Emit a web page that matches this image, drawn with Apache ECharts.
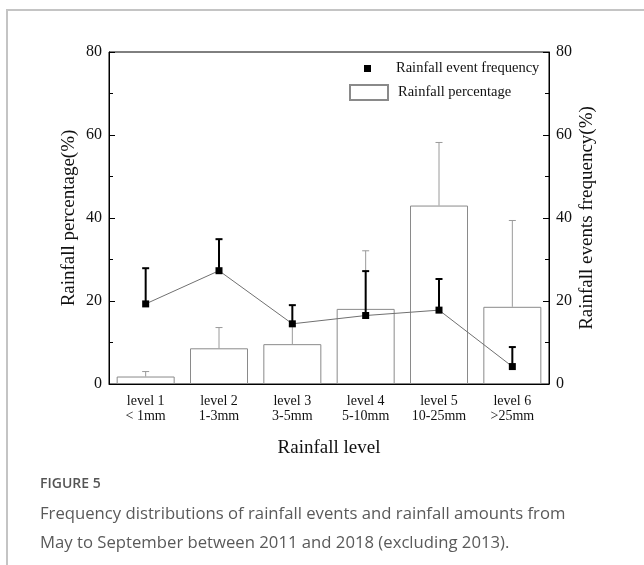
<!DOCTYPE html>
<html>
<head>
<meta charset="utf-8">
<style>
  html, body { margin: 0; padding: 0; background: #fff; }
  #frame {
    position: absolute; left: 6px; top: 9px; width: 640px; height: 560px;
    border-left: 2px solid #c4c4c4; border-top: 2px solid #c4c4c4;
  }
  #chart { position: absolute; left: 0; top: 0; width: 644px; height: 565px; }
</style>
<script src="https://cdn.jsdelivr.net/npm/echarts@6/dist/echarts.min.js"></script>
</head>
<body>
<div id="frame"></div>
<div id="chart"></div>
<script>
// rainfall levels (x axis)
const levels = ['level 1\n< 1mm', 'level 2\n1-3mm', 'level 3\n3-5mm', 'level 4\n5-10mm', 'level 5\n10-25mm', 'level 6\n>25mm'];

// rainfall percentage (%) bars and the top of their error bars
const rainPct = [1.8, 8.6, 9.6, 18.1, 43.0, 18.6];
const rainPctUpper = [3.0, 13.6, 14.0, 32.1, 58.2, 39.4];

// rainfall event frequency (%) points and the top of their error bars
const eventFreq = [19.3, 27.3, 14.5, 16.5, 17.8, 4.2];
const eventFreqUpper = [27.9, 34.9, 19.0, 27.2, 25.3, 8.9];

const yTicks = { min: 0, max: 80, interval: 20 };

const serif = '"Liberation Serif", "Times New Roman", serif';

// vertical error bar with a cap, drawn from base value up to top value
function errorBar(color, width, cap) {
  return function (params, api) {
    const i = api.value(0);
    const from = api.coord([i, api.value(1)]);
    const to = api.coord([i, api.value(2)]);
    const style = { stroke: color, lineWidth: width };
    return {
      type: 'group',
      children: [
        { type: 'line', shape: { x1: from[0], y1: from[1], x2: to[0], y2: to[1] }, style },
        { type: 'line', shape: { x1: to[0] - cap / 2, y1: to[1], x2: to[0] + cap / 2, y2: to[1] }, style },
      ],
    };
  };
}

const chart = echarts.init(document.getElementById('chart'), null, { renderer: 'canvas' });

const yAxisBase = {
  type: 'value',
  min: yTicks.min,
  max: yTicks.max,
  interval: yTicks.interval,
  nameLocation: 'middle',
  nameRotate: 90,
  nameGap: 30,
  nameMoveOverlap: false,
  nameTextStyle: { fontFamily: serif, fontSize: 19, color: '#111' },
  axisLine: { show: true, lineStyle: { color: '#000', width: 1 } },
  axisTick: { show: true, inside: true, length: 6, lineStyle: { color: '#000' } },
  minorTick: { show: true, splitNumber: 2, length: 4, lineStyle: { color: '#000' } },
  splitLine: { show: false },
  axisLabel: { fontFamily: serif, fontSize: 16, color: '#111', margin: 7 },
};

chart.setOption({
  animation: false,
  backgroundColor: 'transparent',
  grid: {
    left: 109, right: 95, top: 52, bottom: 181,
    show: true, borderColor: '#000', borderWidth: 1, backgroundColor: 'transparent',
  },
  legend: [
    {
      data: [{ name: 'Rainfall event frequency', icon: 'rect' }],
      left: 364, top: 61, padding: 0,
      itemWidth: 7, itemHeight: 7,
      itemStyle: { color: '#000', borderWidth: 0 },
      textStyle: { fontFamily: serif, fontSize: 14.5, color: '#111', padding: [0, 0, 0, 20] },
      selectedMode: false,
    },
    {
      data: [{ name: 'Rainfall percentage', icon: 'rect' }],
      left: 349, top: 84, padding: 0,
      itemWidth: 38, itemHeight: 15,
      textStyle: { fontFamily: serif, fontSize: 14.5, color: '#111', padding: [0, 0, 0, 5] },
      selectedMode: false,
    },
  ],
  xAxis: {
    type: 'category',
    data: levels,
    name: 'Rainfall level',
    nameLocation: 'middle',
    nameGap: 55,
    nameMoveOverlap: false,
    nameTextStyle: { fontFamily: serif, fontSize: 19, color: '#111' },
    axisLine: { lineStyle: { color: '#000', width: 1 } },
    axisTick: { alignWithLabel: true, length: 5, lineStyle: { color: '#000' } },
    axisLabel: { fontFamily: serif, fontSize: 14, lineHeight: 15, color: '#111', margin: 10 },
  },
  yAxis: [
    Object.assign({}, yAxisBase, { name: 'Rainfall percentage(%)', position: 'left' }),
    Object.assign({}, yAxisBase, { name: 'Rainfall events frequency(%)', position: 'right', nameGap: 29 }),
  ],
  series: [
    {
      name: 'Rainfall percentage',
      type: 'bar',
      data: rainPct,
      barWidth: 58,
      yAxisIndex: 0,
      itemStyle: { color: '#fff', borderColor: '#8a8a8a', borderWidth: 1 },
      z: 2,
    },
    {
      name: 'pct error',
      type: 'custom',
      yAxisIndex: 0,
      data: rainPct.map((v, i) => [i, v, rainPctUpper[i]]),
      renderItem: errorBar('#9a9a9a', 1, 7),
      z: 3,
    },
    {
      name: 'freq error',
      type: 'custom',
      yAxisIndex: 1,
      data: eventFreq.map((v, i) => [i, v, eventFreqUpper[i]]),
      renderItem: errorBar('#000', 2, 7),
      z: 4,
    },
    {
      name: 'Rainfall event frequency',
      type: 'line',
      data: eventFreq,
      yAxisIndex: 1,
      symbol: 'rect',
      symbolSize: 7,
      showAllSymbol: true,
      itemStyle: { color: '#000' },
      lineStyle: { color: '#707070', width: 1 },
      z: 5,
    },
  ],
  graphic: [
    {
      type: 'text', left: 40, top: 477,
      style: { text: 'FIGURE 5', font: '600 14px "Open Sans", "Noto Sans", sans-serif', fill: '#555' },
    },
    {
      type: 'text', left: 40, top: 500,
      style: {
        text: 'Frequency distributions of rainfall events and rainfall amounts from\nMay to September between 2011 and 2018 (excluding 2013).',
        font: '400 16.7px "Open Sans", "Noto Sans", sans-serif', lineHeight: 29, fill: '#5a5a5a',
      },
    },
  ],
});
</script>
</body>
</html>
